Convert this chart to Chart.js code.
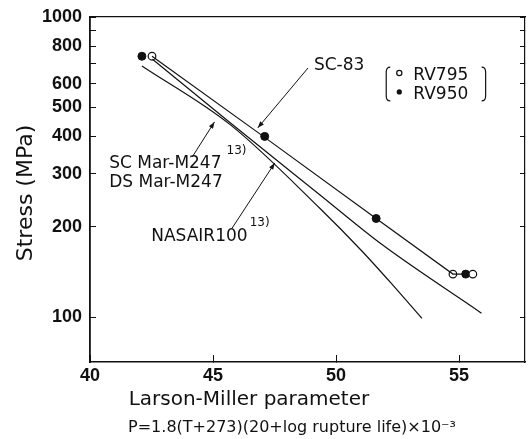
<!DOCTYPE html>
<html>
<head>
<meta charset="utf-8">
<script src="https://cdn.jsdelivr.net/npm/chart.js@4.4.1/dist/chart.umd.min.js"></script>
<style>
  html, body { margin: 0; padding: 0; background: #fff; }
</style>
</head>
<body>
<canvas id="lmChart" width="528" height="439"></canvas>
<script>
// Values (x = Larson-Miller parameter, y = stress in MPa)
const rv795X = [42.52, 54.75, 55.56];
const rv795Y = [740, 139, 139];
const rv950X = [42.11, 47.10, 51.63, 55.27];
const rv950Y = [740, 400, 213, 139];

const sc83X = [42.52, 47.10, 51.63, 54.75, 55.27];
const sc83Y = [740, 397, 213, 139, 139];
const nasairX = [42.54, 45.71, 49.35, 51.80, 55.91];
const nasairY = [723, 443, 255, 176, 103];
const marX = [42.11, 45.71, 49.35, 51.05, 52.30, 53.49];
const marY = [687, 437, 230, 166, 128, 99];

const xTicks = [40, 45, 50, 55];
const yTicks = [100, 200, 300, 400, 500, 600, 700, 800, 900, 1000];
const yTickLabels = [100, 200, 300, 400, 500, 600, 800, 1000];

const X_MIN = 40, X_MAX = 57.68, Y_MIN = 70.8, Y_MAX = 1000;

function toPoints(xs, ys) {
    return xs.map((x, i) => ({ x: x, y: ys[i] }));
}

// text labels and arrows, placed in data units
const notes = [
    { text: 'SC-83', x: 49.10, y: 687, size: 17 },
    { text: 'SC Mar-M247', x: 40.78, y: 324, size: 17 },
    { text: '13)', x: 45.55, y: 357, size: 12 },
    { text: 'DS Mar-M247', x: 40.78, y: 280, size: 17 },
    { text: 'NASAIR100', x: 42.49, y: 185, size: 17 },
    { text: '13)', x: 46.49, y: 206, size: 12 }
];
const arrows = [
    { from: [48.86, 676], to: [46.82, 427] },
    { from: [44.16, 342], to: [45.06, 447] },
    { from: [45.76, 197], to: [47.51, 326] }
];
const legendItems = [
    { text: 'RV795', x: 53.14, y: 636, filled: false },
    { text: 'RV950', x: 53.14, y: 550, filled: true }
];
const legendBox = { x1: 52.04, x2: 56.08, top: 681, bottom: 525 };

const xTitle = 'Larson-Miller parameter';
const xFormula = 'P=1.8(T+273)(20+log rupture life)×10⁻³';

const annotate = {
    id: 'annotate',
    afterDatasetsDraw(chart) {
        const ctx = chart.ctx;
        const xs = chart.scales.x, ys = chart.scales.y;
        const px = v => xs.getPixelForValue(v);
        const py = v => ys.getPixelForValue(v);
        ctx.save();
        ctx.fillStyle = '#111';
        ctx.strokeStyle = '#111';
        ctx.textBaseline = 'middle';
        ctx.textAlign = 'left';
        notes.forEach(n => {
            ctx.font = n.size + 'px "DejaVu Sans", sans-serif';
            ctx.fillText(n.text, px(n.x), py(n.y));
        });

        // arrows with small heads
        ctx.lineWidth = 1;
        arrows.forEach(a => {
            const x1 = px(a.from[0]), y1 = py(a.from[1]);
            const x2 = px(a.to[0]), y2 = py(a.to[1]);
            const ang = Math.atan2(y2 - y1, x2 - x1);
            ctx.beginPath();
            ctx.moveTo(x1, y1);
            ctx.lineTo(x2, y2);
            ctx.stroke();
            ctx.beginPath();
            ctx.moveTo(x2, y2);
            ctx.lineTo(x2 - 7 * Math.cos(ang - 0.35), y2 - 7 * Math.sin(ang - 0.35));
            ctx.lineTo(x2 - 7 * Math.cos(ang + 0.35), y2 - 7 * Math.sin(ang + 0.35));
            ctx.closePath();
            ctx.fill();
        });

        // bracketed legend
        legendItems.forEach(it => {
            const lx = px(it.x), ly = py(it.y);
            ctx.font = '17px "DejaVu Sans", sans-serif';
            ctx.fillText(it.text, lx, ly);
            ctx.beginPath();
            ctx.arc(lx - 14, ly - 3, 2.6, 0, Math.PI * 2);
            if (it.filled) {
                ctx.fill();
            } else {
                ctx.lineWidth = 1.2;
                ctx.stroke();
            }
        });
        const bx1 = px(legendBox.x1), bx2 = px(legendBox.x2);
        const bt = py(legendBox.top), bb = py(legendBox.bottom);
        ctx.lineWidth = 1.2;
        ctx.beginPath();
        ctx.moveTo(bx1 + 4, bt);
        ctx.quadraticCurveTo(bx1, bt, bx1, bt + 5);
        ctx.lineTo(bx1, bb - 5);
        ctx.quadraticCurveTo(bx1, bb, bx1 + 4, bb);
        ctx.moveTo(bx2 - 4, bt);
        ctx.quadraticCurveTo(bx2, bt, bx2, bt + 5);
        ctx.lineTo(bx2, bb - 5);
        ctx.quadraticCurveTo(bx2, bb, bx2 - 4, bb);
        ctx.stroke();

        // x-axis title and formula line, set a bit left of centre like the original
        ctx.textAlign = 'center';
        ctx.font = '20px "DejaVu Sans", sans-serif';
        ctx.fillText(xTitle, px(46.46), xs.bottom - 39);
        ctx.font = '16px "DejaVu Sans", sans-serif';
        ctx.fillText(xFormula, px(48.21), xs.bottom - 11);
        ctx.restore();
    }
};

const tickFont = { family: '"Liberation Sans", Arial, sans-serif', size: 18, weight: 'bold' };
const lineStyle = { borderColor: '#111', borderWidth: 1.2, pointRadius: 0, showLine: true, fill: false };

const ctxLM = document.getElementById('lmChart').getContext('2d');
const lmChart = new Chart(ctxLM, {
    type: 'scatter',
    data: {
        datasets: [
            Object.assign({ label: 'SC-83', data: toPoints(sc83X, sc83Y), tension: 0 }, lineStyle),
            Object.assign({ label: 'NASAIR100', data: toPoints(nasairX, nasairY), cubicInterpolationMode: 'monotone' }, lineStyle),
            Object.assign({ label: 'Mar-M247', data: toPoints(marX, marY), cubicInterpolationMode: 'monotone' }, lineStyle),
            {
                label: 'RV795',
                data: toPoints(rv795X, rv795Y),
                pointRadius: 3.8,
                pointBackgroundColor: '#fff',
                pointBorderColor: '#111',
                pointBorderWidth: 1.2,
                showLine: false
            },
            {
                label: 'RV950',
                data: toPoints(rv950X, rv950Y),
                pointRadius: 4,
                pointBackgroundColor: '#111',
                pointBorderColor: '#111',
                pointBorderWidth: 1,
                showLine: false
            }
        ]
    },
    options: {
        responsive: false,
        animation: false,
        devicePixelRatio: 1,
        layout: {
            autoPadding: false,
            padding: { left: 0, right: 3, top: 17, bottom: 0 }
        },
        scales: {
            x: {
                type: 'linear',
                position: 'bottom',
                min: X_MIN,
                max: X_MAX,
                afterBuildTicks: s => { s.ticks = xTicks.map(v => ({ value: v })); },
                afterFit: s => { s.height = 77; },
                grid: { drawOnChartArea: false, tickLength: -7, color: '#111' },
                border: { color: '#111', width: 1.6 },
                ticks: { color: '#111', font: tickFont, padding: 10, maxRotation: 0 }
            },
            xTop: {
                type: 'linear',
                position: 'top',
                min: X_MIN,
                max: X_MAX,
                afterFit: s => { s.height = 0; },
                grid: { drawOnChartArea: false, drawTicks: false },
                border: { color: '#111', width: 1.2 },
                ticks: { display: false }
            },
            y: {
                type: 'logarithmic',
                position: 'left',
                min: Y_MIN,
                max: Y_MAX,
                afterBuildTicks: s => { s.ticks = yTicks.map(v => ({ value: v })); },
                // fixed width; drop the label overhang so the plot top stays at the frame
                afterFit: s => { s.width = 90; s.paddingTop = 4; s.paddingBottom = 4; },
                grid: { drawOnChartArea: false, tickLength: -6, color: '#111' },
                border: { color: '#111', width: 1.8 },
                ticks: {
                    color: '#111',
                    font: tickFont,
                    padding: 14,
                    autoSkip: false,
                    callback: v => yTickLabels.includes(v) ? String(v) : ''
                },
                title: {
                    display: true,
                    text: 'Stress (MPa)\u00a0',
                    color: '#111',
                    font: { family: '"DejaVu Sans", sans-serif', size: 22 },
                    padding: { top: 13, bottom: 0 }
                }
            },
            yRight: {
                type: 'logarithmic',
                position: 'right',
                min: Y_MIN,
                max: Y_MAX,
                afterBuildTicks: s => { s.ticks = yTicks.map(v => ({ value: v })); },
                afterFit: s => { s.width = 0; },
                grid: { drawOnChartArea: false, tickLength: -5, color: '#111' },
                border: { color: '#111', width: 1.2 },
                ticks: { display: false }
            }
        },
        plugins: {
            legend: { display: false },
            tooltip: { enabled: false },
            title: { display: false }
        }
    },
    plugins: [annotate]
});
</script>
</body>
</html>
